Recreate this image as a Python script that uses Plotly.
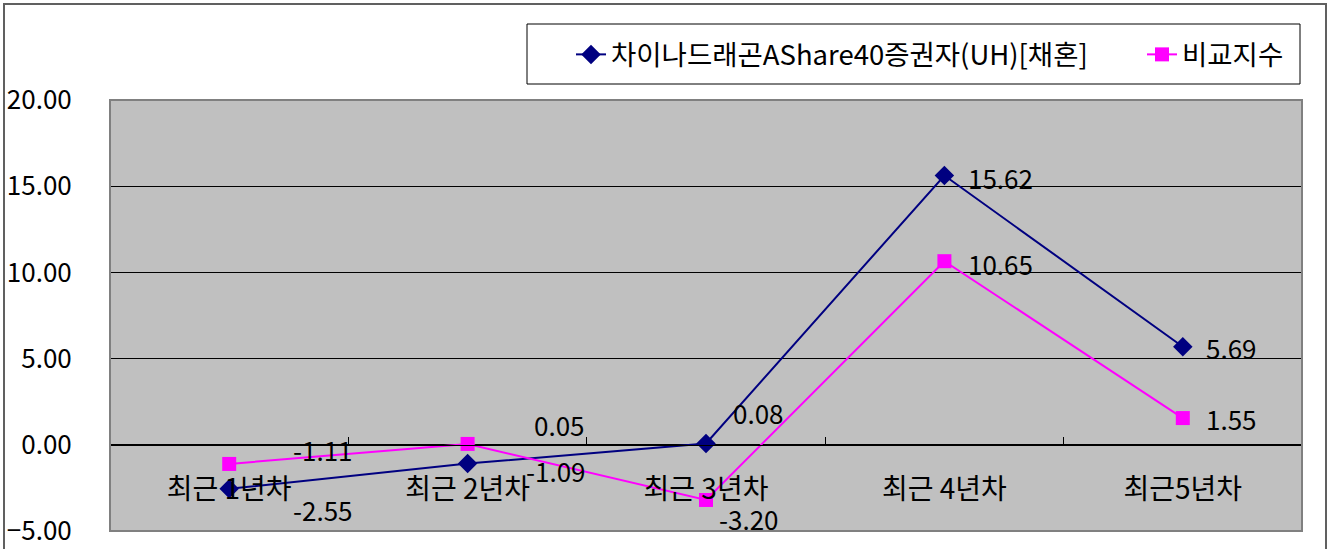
import plotly.graph_objects as go

categories = ["최근 1년차", "최근 2년차", "최근 3년차", "최근 4년차", "최근5년차"]
fund_name = "차이나드래곤AShare40증권자(UH)[채혼]"
bench_name = "비교지수"
fund_values = [-2.55, -1.09, 0.08, 15.62, 5.69]
bench_values = [-1.11, 0.05, -3.20, 10.65, 1.55]
y_min, y_max, y_step = -5, 20, 5

# label offsets (pixels) per point: (xshift, yshift)
fund_label_shift = [(64, -21), (58, -7), (27, 31), (24, -2), (23, -1)]
bench_label_shift = [(64, 14), (66, 19), (13, -19), (24, -2), (23, 0)]

FONT = "Noto Sans CJK KR"
W, H = 1328, 549
ML, MR, MT, MB = 110, 26, 100, 18

fig = go.Figure()
fig.add_trace(go.Scatter(
    x=categories, y=fund_values, name=fund_name, mode="lines+markers",
    line=dict(color="#000080", width=2),
    marker=dict(symbol="diamond", size=15, color="#000080"),
))
fig.add_trace(go.Scatter(
    x=categories, y=bench_values, name=bench_name, mode="lines+markers",
    line=dict(color="#FF00FF", width=2),
    marker=dict(symbol="square", size=14, color="#FF00FF"),
))

annotations = []
for vals, shifts in ((fund_values, fund_label_shift), (bench_values, bench_label_shift)):
    for c, v, (dx, dy) in zip(categories, vals, shifts):
        annotations.append(dict(
            x=c, y=v, xref="x", yref="y", text=f"{v:.2f}", showarrow=False,
            xanchor="left", yanchor="middle", xshift=dx - 2, yshift=dy,
            font=dict(family=FONT, size=26, color="black"),
        ))

pw = W - ML - MR
ph = H - MT - MB


def px_x(p):
    return (p - ML) / pw


def px_y(p):
    return (MT + ph - p) / ph


shapes = [
    # chart frame
    dict(type="rect", xref="paper", yref="paper",
         x0=px_x(4), x1=px_x(1326), y0=px_y(H + 10), y1=px_y(4),
         line=dict(color="#606060", width=2), layer="below"),
    # legend box
    dict(type="rect", xref="paper", yref="paper",
         x0=px_x(527), x1=px_x(1300), y0=px_y(84), y1=px_y(24),
         line=dict(color="black", width=1), fillcolor="white", layer="below"),
    # plot area border
    dict(type="rect", xref="x domain", yref="y domain", x0=0, x1=1, y0=0, y1=1,
         line=dict(color="#808080", width=2), layer="above"),
]

zero_pos = (0 - y_min) / (y_max - y_min)

fig.update_layout(
    width=W, height=H,
    margin=dict(l=ML, r=MR, t=MT, b=MB, autoexpand=False),
    paper_bgcolor="white", plot_bgcolor="#C0C0C0",
    font=dict(family=FONT, size=26, color="black"),
    showlegend=True,
    legend=dict(
        orientation="h", x=px_x(571), xanchor="left",
        y=px_y(30), yanchor="top",
        bgcolor="rgba(0,0,0,0)", borderwidth=0,
        font=dict(family=FONT, size=27.5, color="black"),
        itemwidth=30, tracegroupgap=0, entrywidth=526,
    ),
    annotations=annotations,
    shapes=shapes,
    xaxis=dict(
        type="category", range=[-0.5, len(categories) - 0.5],
        anchor="free", position=zero_pos,
        showline=True, linecolor="black", linewidth=1,
        ticks="inside", tickson="boundaries", ticklen=8, tickcolor="black",
        showgrid=False, zeroline=False,
        tickfont=dict(family=FONT, size=28, color="black"),
        ticklabelstandoff=20,
    ),
    yaxis=dict(
        range=[y_min, y_max], dtick=y_step, tick0=y_min, tickformat=".2f",
        showline=True, linecolor="black", linewidth=1,
        ticks="inside", ticklen=8, tickcolor="black",
        showgrid=True, gridcolor="black", gridwidth=1,
        zeroline=False,
        tickfont=dict(family=FONT, size=26, color="black"),
        ticklabelstandoff=32,
    ),
)

fig.write_html("out.html", config={"displayModeBar": False},
               post_script="document.body.style.margin='0px';")
